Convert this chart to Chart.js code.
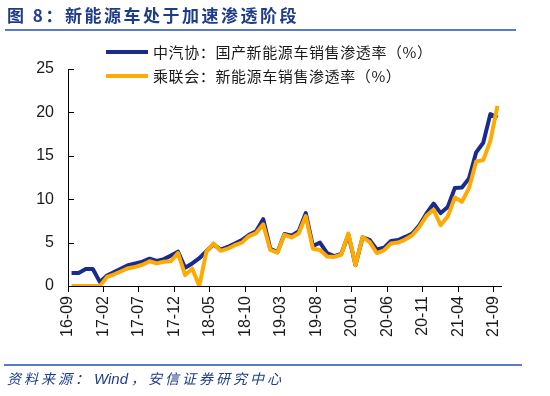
<!DOCTYPE html>
<html>
<head>
<meta charset="utf-8">
<script src="https://cdn.jsdelivr.net/npm/chart.js@4.4.1/dist/chart.umd.min.js"></script>
<style>
    body { margin: 0; background: #fff; }
    #wrap { position: relative; width: 550px; height: 396px; overflow: hidden; font-family: "Noto Sans CJK SC", "Noto Sans", sans-serif; }
    #chart { position: absolute; left: 0; top: 0; }
    .title { position: absolute; left: 7px; top: 3px; font-size: 17px; font-weight: bold; color: #1f3c88; letter-spacing: 2.5px; line-height: 24px; white-space: nowrap; }
    .rule { position: absolute; height: 2px; background: #5a7cc4; }
    .legend-row { position: absolute; left: 106px; height: 20px; white-space: nowrap; }
    .legend-row .swatch { position: absolute; left: 0; top: 8px; width: 42px; height: 4px; }
    .legend-row .text { position: absolute; left: 47px; top: 0; font-size: 15px; letter-spacing: 0.6px; line-height: 20px; color: #1a1a1a; }
    .source { position: absolute; left: 7px; top: 368px; font-size: 14px; font-style: italic; color: #1f3c88; letter-spacing: 3px; line-height: 20px; white-space: nowrap; }
    .source .latin { font-family: "Liberation Sans", sans-serif; font-size: 15px; letter-spacing: 0; margin: 0 3px 0 2px; }
</style>
</head>
<body>
<div id="wrap">
    <canvas id="chart" width="550" height="396"></canvas>
    <div class="title">图 8：新能源车处于加速渗透阶段</div>
    <div class="rule" style="left:5px; top:29px; width:511px;"></div>
    <div class="legend-row" style="top:42px;">
        <div class="swatch" style="background:#1a2b8f;"></div>
        <div class="text">中汽协：国产新能源车销售渗透率（%）</div>
    </div>
    <div class="legend-row" style="top:66px;">
        <div class="swatch" style="background:#ffaa00;"></div>
        <div class="text">乘联会：新能源车销售渗透率（%）</div>
    </div>
    <div class="rule" style="left:4px; top:364px; width:518px;"></div>
    <div class="source">资料来源：<span class="latin">Wind</span>，安信证券研究中心</div>
</div>
<script>
// monthly data, 2016-09 .. 2021-09
const tickLabels = ['16-09', '17-02', '17-07', '17-12', '18-05', '18-10', '19-03',
    '19-08', '20-01', '20-06', '20-11', '21-04', '21-09'];

const caamRate = [1.5, 1.5, 1.95, 1.95, 0.45, 1.2, 1.6, 2.0, 2.4, 2.6,
    2.8, 3.15, 2.9, 3.1, 3.5, 3.95, 2.1, 2.6, 3.2, 4.0,
    4.8, 4.2, 4.5, 4.9, 5.3, 5.9, 6.3, 7.7, 4.3, 3.9,
    6.0, 5.8, 6.3, 8.4, 4.6, 5.0, 3.8, 3.45, 3.7, 5.9,
    2.4, 5.6, 5.3, 4.2, 4.4, 5.2, 5.3, 5.65, 6.05, 7.0,
    8.35, 9.5, 8.4, 9.1, 11.3, 11.35, 12.4, 15.4, 16.5, 19.8,
    19.4];

const cpcaRate = [0, 0, 0, 0, 0, 1.05, 1.35, 1.7, 2.05, 2.2,
    2.45, 2.85, 2.6, 2.8, 2.85, 3.8, 1.25, 2.0, 0, 3.95,
    4.9, 4.05, 4.3, 4.7, 5.0, 5.75, 6.1, 7.1, 4.15, 3.85,
    5.9, 5.6, 6.05, 8.05, 4.3, 4.15, 3.4, 3.35, 3.6, 6.05,
    2.4, 5.65, 5.05, 3.8, 4.1, 4.9, 5.0, 5.35, 5.85, 6.8,
    8.1, 8.8, 7.0, 8.0, 10.2, 9.7, 11.3, 14.35, 14.5, 16.7,
    20.75];

const yTicks = [0, 5, 10, 15, 20, 25];

// points sit half a month right of their tick (Excel date axis style)
function toPoints(arr) {
    return arr.map((v, i) => ({ x: i + 0.5, y: v }));
}

// y axis tick marks point into the plot
const innerTicks = {
    id: 'innerTicks',
    afterDraw(chart) {
        const ctx = chart.ctx;
        const y = chart.scales.y;
        const left = chart.chartArea.left;
        ctx.save();
        ctx.strokeStyle = '#000';
        ctx.lineWidth = 1;
        yTicks.forEach(t => {
            const py = Math.round(y.getPixelForValue(t)) + 0.5;
            ctx.beginPath();
            ctx.moveTo(left, py);
            ctx.lineTo(left + 6, py);
            ctx.stroke();
        });
        ctx.restore();
    }
};

new Chart(document.getElementById('chart'), {
    type: 'line',
    data: {
        datasets: [{
            label: '中汽协：国产新能源车销售渗透率（%）',
            data: toPoints(caamRate),
            borderColor: '#1a2b8f',
            borderWidth: 4,
            borderJoinStyle: 'round',
            pointRadius: 0,
            tension: 0,
            order: 2
        }, {
            label: '乘联会：新能源车销售渗透率（%）',
            data: toPoints(cpcaRate),
            borderColor: '#ffaa00',
            borderWidth: 4,
            borderJoinStyle: 'round',
            pointRadius: 0,
            tension: 0,
            order: 1
        }]
    },
    options: {
        responsive: false,
        animation: false,
        devicePixelRatio: 1,
        layout: { padding: { top: 69, right: 49, left: 0, bottom: 0 } },
        plugins: { legend: { display: false }, tooltip: { enabled: false } },
        scales: {
            x: {
                type: 'linear',
                min: 0,
                max: 61,
                afterBuildTicks: s => { s.ticks = tickLabels.map((_, i) => ({ value: i * 5 })); },
                afterFit: s => { s.height = 110; },
                ticks: {
                    callback: v => tickLabels[v / 5],
                    autoSkip: false,
                    minRotation: 90,
                    maxRotation: 90,
                    padding: 4,
                    color: '#1a1a1a',
                    font: { family: 'Liberation Sans', size: 16 }
                },
                grid: { display: true, drawOnChartArea: false, drawTicks: true, tickLength: 6, color: '#000' },
                border: { display: true, color: '#000', width: 1 }
            },
            y: {
                min: 0,
                max: 25,
                afterFit: s => { s.width = 68; },
                ticks: {
                    stepSize: 5,
                    padding: 14,
                    color: '#1a1a1a',
                    font: { family: 'Liberation Sans', size: 16 }
                },
                grid: { display: false, drawTicks: false },
                border: { display: true, color: '#000', width: 1 }
            }
        }
    },
    plugins: [innerTicks]
});
</script>
</body>
</html>
